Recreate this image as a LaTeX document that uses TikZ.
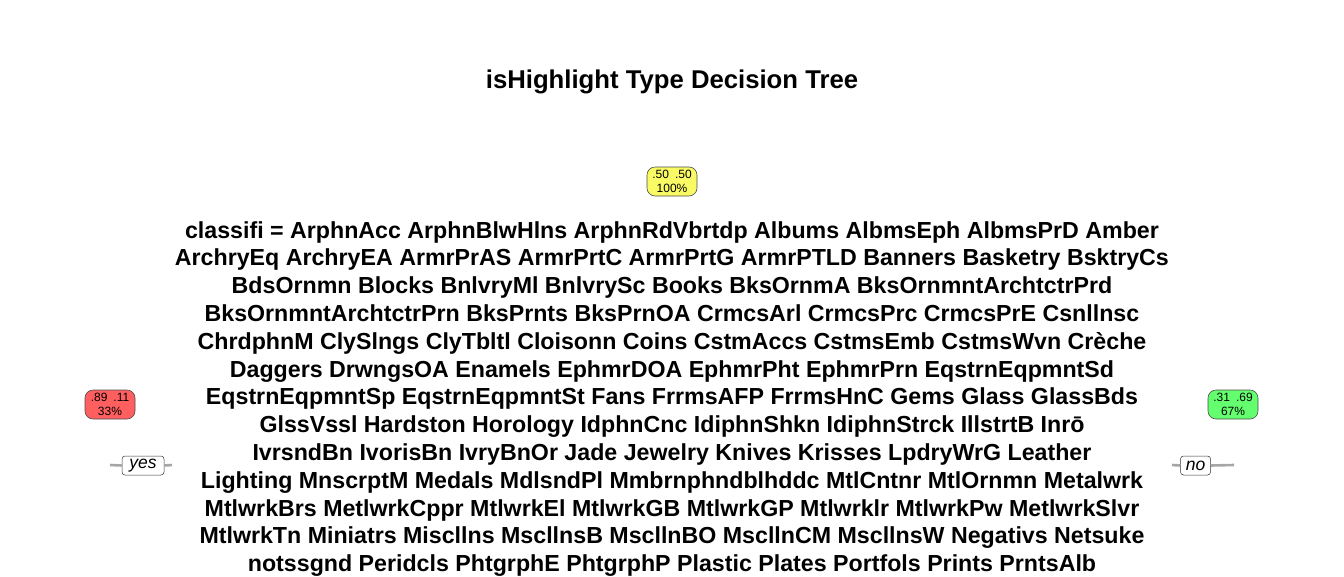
\documentclass[tikz,border=0pt]{standalone}
\usepackage{fontspec}
\setmainfont{Liberation Sans}
\setsansfont{Liberation Sans}
\begin{document}
\begin{tikzpicture}[x=1pt,y=-1pt,
  leaf/.style={draw=black!70, line width=0.6pt, rounded corners=8pt, minimum width=50pt, minimum height=29pt,
    inner sep=1pt, align=center, font=\fontsize{12}{14}\selectfont},
  lab/.style={draw=black!80, line width=0.5pt, rounded corners=3pt, fill=white, inner sep=2pt,
    minimum height=19pt, font=\fontsize{17.5}{17.5}\selectfont\itshape},
  br/.style={draw=black!35, line width=2.6pt}]
\useasboundingbox (0,0) rectangle (1344,576);
\definecolor{cyel}{RGB}{250,250,100}
\definecolor{cred}{RGB}{255,95,95}
\definecolor{cgrn}{RGB}{100,255,110}
\node[font=\fontsize{25.7}{25.7}\selectfont\bfseries] (title) at (672,82) {isHighlight Type Decision Tree};
\node[leaf, fill=cyel] (root) at (672,181.5) {.50\enspace.50\\100\%};
\node[leaf, fill=cred] (left) at (110,404.5) {.89\enspace.11\\33\%};
\node[leaf, fill=cgrn] (right) at (1233,404.5) {.31\enspace.69\\67\%};
\coordinate (ya) at (110,465);
\coordinate (yb) at (172,465);
\coordinate (na) at (1172,465);
\coordinate (nb) at (1234,465);
\node[lab, minimum width=42pt] (yes) at (143,465.5) {yes};
\node[lab, minimum width=30pt] (no) at (1195.5,465.5) {no};
\draw[br] (ya) -- (yes.west);
\draw[br] (yes.east) -- (yb);
\draw[br] (na) -- (no.west);
\draw[br] (no.east) -- (nb);
\node[align=center, font=\fontsize{23.2}{27.8}\selectfont\bfseries, inner sep=0pt] (split) at (672,399) {%
classifi = ArphnAcc ArphnBlwHlns ArphnRdVbrtdp Albums AlbmsEph AlbmsPrD Amber\\
ArchryEq ArchryEA ArmrPrAS ArmrPrtC ArmrPrtG ArmrPTLD Banners Basketry BsktryCs\\
BdsOrnmn Blocks BnlvryMl BnlvrySc Books BksOrnmA BksOrnmntArchtctrPrd\\
BksOrnmntArchtctrPrn BksPrnts BksPrnOA CrmcsArl CrmcsPrc CrmcsPrE Csnllnsc\\
ChrdphnM ClySlngs ClyTbltl Cloisonn Coins CstmAccs CstmsEmb CstmsWvn Crèche\\
Daggers DrwngsOA Enamels EphmrDOA EphmrPht EphmrPrn EqstrnEqpmntSd\\
EqstrnEqpmntSp EqstrnEqpmntSt Fans FrrmsAFP FrrmsHnC Gems Glass GlassBds\\
GlssVssl Hardston Horology IdphnCnc IdiphnShkn IdiphnStrck IllstrtB Inrō\\
IvrsndBn IvorisBn IvryBnOr Jade Jewelry Knives Krisses LpdryWrG Leather\\
Lighting MnscrptM Medals MdlsndPl Mmbrnphndblhddc MtlCntnr MtlOrnmn Metalwrk\\
MtlwrkBrs MetlwrkCppr MtlwrkEl MtlwrkGB MtlwrkGP Mtlwrklr MtlwrkPw MetlwrkSlvr\\
MtlwrkTn Miniatrs Miscllns MscllnsB MscllnBO MscllnCM MscllnsW Negativs Netsuke\\
notssgnd Peridcls PhtgrphE PhtgrphP Plastic Plates Portfols Prints PrntsAlb};
\end{tikzpicture}
\end{document}
